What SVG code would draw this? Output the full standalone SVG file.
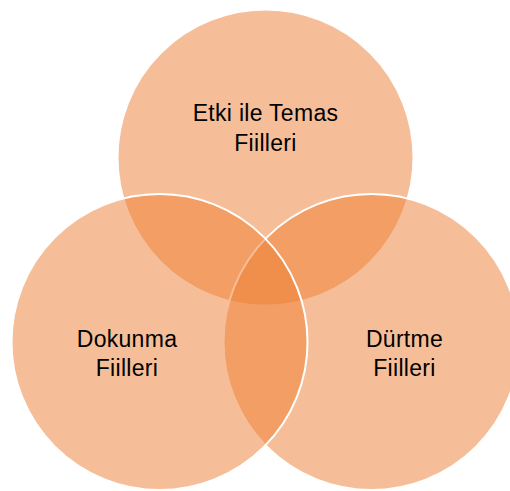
<svg xmlns="http://www.w3.org/2000/svg" width="510" height="491" viewBox="0 0 510 491">
<style>
.c{fill:#ED7D31;fill-opacity:0.5;stroke:#FFFFFF;stroke-width:2}
.t{font-family:"Liberation Sans",Arial,sans-serif;font-size:23px;fill:#000;text-anchor:middle;letter-spacing:0.3px}
</style>
<rect width="510" height="491" fill="#FFFFFF"/>
<g id="node-top"><circle class="c" cx="265.5" cy="157.5" r="148"/></g>
<g id="node-right"><circle class="c" cx="371.5" cy="342" r="148"/></g>
<g id="node-left"><circle class="c" cx="159.5" cy="342" r="148"/></g>
<g id="connectors"></g>
<g id="labels">
<text class="t" x="265.5" y="120.5">Etki ile Temas</text>
<text class="t" x="265.5" y="150.5">Fiilleri</text>
<text class="t" x="127" y="346.5">Dokunma</text>
<text class="t" x="127" y="375.5">Fiilleri</text>
<text class="t" x="404.5" y="346.5">Dürtme</text>
<text class="t" x="404.5" y="375.5">Fiilleri</text>
</g>
</svg>
